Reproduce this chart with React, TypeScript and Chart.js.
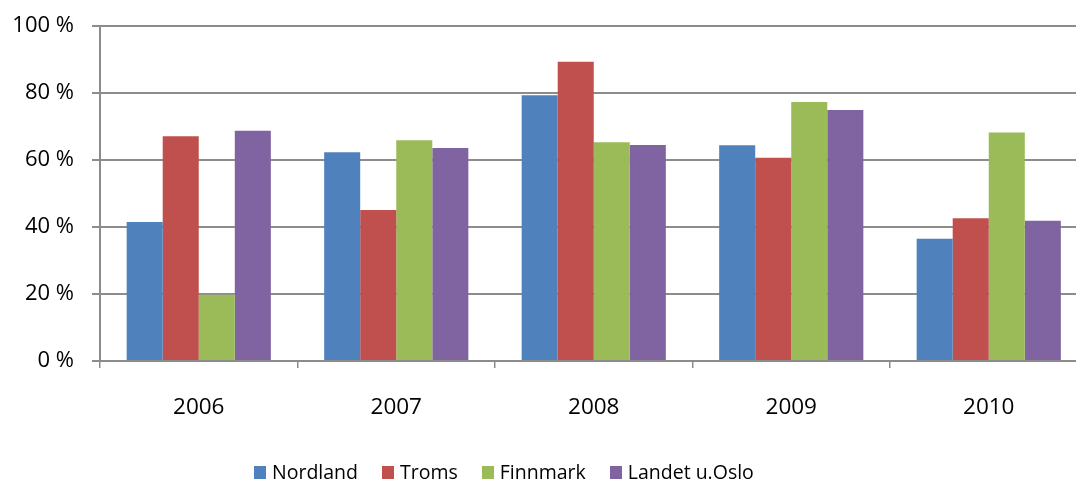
import React, { useEffect, useRef } from "react";
import { Chart, registerables } from "chart.js";

Chart.register(...registerables);

const categories = ["2006", "2007", "2008", "2009", "2010"];
const nordland = [41.5, 62.3, 79.3, 64.4, 36.5];
const troms = [67.1, 45.1, 89.3, 60.7, 42.6];
const finnmark = [19.8, 65.9, 65.3, 77.3, 68.2];
const landet = [68.7, 63.6, 64.5, 74.9, 41.9];
const seriesNames = ["Nordland", "Troms", "Finnmark", "Landet u.Oslo"];
const seriesColors = ["#4F81BD", "#C0504D", "#9BBB59", "#8064A2"];
const yMin = 0;
const yMax = 100;
const yStep = 20;

const FONT = "'Open Sans', 'Noto Sans', sans-serif";
const GRID = "#8c8c8c";

export default function App() {
  const ref = useRef<HTMLCanvasElement | null>(null);

  useEffect(() => {
    if (!ref.current) return;
    const values = [nordland, troms, finnmark, landet];
    const chart = new Chart(ref.current, {
      type: "bar",
      data: {
        labels: categories,
        datasets: seriesNames.map((name, i) => ({
          label: name,
          data: values[i],
          backgroundColor: seriesColors[i],
          borderWidth: 0,
          categoryPercentage: 0.73,
          barPercentage: 1,
        })),
      },
      options: {
        responsive: false,
        animation: false,
        devicePixelRatio: 1,
        layout: { padding: { top: 26, right: 12.5, bottom: 52, left: 0 } },
        plugins: {
          legend: { display: false },
          tooltip: { enabled: false },
        },
        scales: {
          x: {
            grid: {
              display: true,
              drawOnChartArea: false,
              drawTicks: true,
              tickLength: 7,
              color: GRID,
              lineWidth: 1.5,
              offset: true,
            },
            border: { display: true, color: GRID, width: 2 },
            ticks: {
              color: "#000",
              font: { family: FONT, size: 22.5 },
              padding: 26,
              maxRotation: 0,
              autoSkip: false,
            },
            afterFit: (s: any) => {
              s.height = 70;
              s.paddingLeft = 0;
              s.paddingRight = 0;
            },
          },
          y: {
            min: yMin,
            max: yMax,
            grid: {
              color: GRID,
              lineWidth: 2,
              tickLength: 8,
              drawTicks: true,
            },
            border: { display: true, color: GRID, width: 2 },
            ticks: {
              stepSize: yStep,
              color: "#000",
              font: { family: FONT, size: 22 },
              padding: 18,
              callback: (v: any) => `${v} %`,
            },
            afterFit: (s: any) => {
              s.width = 100;
              s.paddingTop = 0;
              s.paddingBottom = 0;
            },
          },
        },
      },
    });
    return () => chart.destroy();
  }, []);

  return (
    <div
      style={{
        position: "fixed",
        left: 0,
        top: 0,
        width: 1076,
        height: 483,
        overflow: "hidden",
        background: "#fff",
      }}
    >
      <canvas ref={ref} width={1100} height={483} style={{ display: "block", width: 1100, height: 483 }} />
      <div
        style={{
          position: "absolute",
          left: 254,
          top: 460,
          display: "flex",
          alignItems: "center",
          gap: 24,
          fontFamily: FONT,
          fontSize: 19.5,
          lineHeight: "24px",
          color: "#000",
          whiteSpace: "nowrap",
        }}
      >
        {seriesNames.map((name, i) => (
          <div key={name} style={{ display: "flex", alignItems: "center", gap: 6 }}>
            <span style={{ display: "inline-block", width: 12, height: 13, background: seriesColors[i] }} />
            <span>{name}</span>
          </div>
        ))}
      </div>
    </div>
  );
}
